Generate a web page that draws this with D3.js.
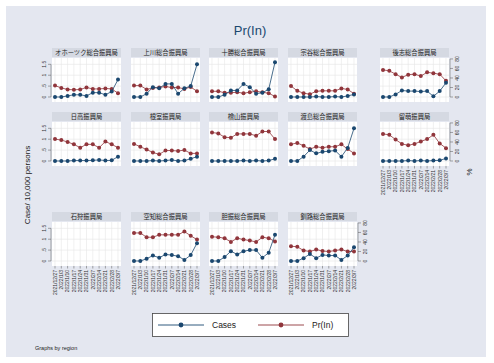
<!DOCTYPE html>
<html><head><meta charset="utf-8">
<script src="https://cdn.jsdelivr.net/npm/d3@7"></script>
<style>body{margin:0;background:#fff}svg{display:block}</style>
</head><body>
<script>
const regions = ["オホーツク総合振興局","上川総合振興局","十勝総合振興局","宗谷総合振興局","後志総合振興局",
  "日高振興局","根室振興局","檜山振興局","渡島総合振興局","留萌振興局",
  "石狩振興局","空知総合振興局","胆振総合振興局","釧路総合振興局"];
const weeks = ["2021/12/27","2022/1/3","2022/1/10","2022/1/17","2022/1/24","2022/1/31","2022/2/7","2022/2/14","2022/2/21","2022/2/28","2022/3/7"];
const cases = [
  [0,0,0.05,0.1,0.1,0.05,0.2,0.2,0.1,0.25,0.8],
  [0,0,0.15,0.45,0.4,0.6,0.6,0.15,0.4,0.5,1.5],
  [0,0,0.1,0.3,0.3,0.6,0.45,0.15,0.2,0.35,1.6],
  [0,0,0,0,0.02,0,0,0.02,0,0.05,0.12],
  [0,0,0.12,0.3,0.27,0.27,0.25,0.27,0.03,0.27,0.65],
  [0,0,0,0.02,0.02,0.02,0.03,0.05,0.02,0.03,0.2],
  [0,0,0,0.02,0,0.02,0.05,0,0.02,0.1,0.2],
  [0,0,0,0,0,0.02,0,0.02,0,0.02,0.1],
  [0,0,0.2,0.5,0.35,0.42,0.45,0.48,0.2,0.6,1.5],
  [0,0,0,0,0.02,0,0.02,0,0.02,0.03,0.12],
  [],
  [0,0,0.1,0.25,0.15,0.3,0.27,0.22,0.05,0.27,0.82],
  [0,0,0.18,0.45,0.3,0.45,0.5,0.5,0.15,0.38,1.2],
  [0,0,0.13,0.32,0.13,0.28,0.25,0.25,0.05,0.25,0.63]
];
const prIn = [
  [24,19,16,15,16,20,17,17,18,17,8],
  [24,24,16,19,20,22,20,20,17,21,12],
  [12,12,9,9,10,8,10,12,10,8,1],
  [23,13,8,6,12,13,13,13,18,16,7],
  [57,55,48,41,47,48,44,52,50,48,34],
  [46,44,40,35,28,35,35,28,41,35,28],
  [36,30,24,18,14,22,22,21,23,16,16],
  [60,58,50,49,57,57,57,53,62,62,46],
  [35,38,32,25,30,28,30,30,35,25,16],
  [57,55,45,36,33,36,41,46,55,37,27],
  [],
  [59,59,50,50,55,55,55,55,62,53,45],
  [51,50,48,40,48,45,43,40,50,48,41],
  [31,30,22,20,24,21,20,22,24,20,20]
];
const caseTicks = [0,0.5,1,1.5];
const caseTickLabels = ["0",".5","1","1.5"];
const prTicks = [0,20,40,60,80];

const W=494,H=363;
const svg=d3.select("body").append("svg").attr("width",W).attr("height",H);
svg.append("rect").attr("width",W).attr("height",H).attr("fill","#fff");
svg.append("rect").attr("x",6).attr("y",6).attr("width",480).attr("height",351).attr("fill","#e4e7f0");

const blue="#1a476f", red="#90353b";
const font="'Liberation Sans', Arial, sans-serif";
const jp="'Noto Sans CJK JP', sans-serif";

svg.append("text").attr("x",250).attr("y",35).attr("text-anchor","middle")
  .attr("font-family",font).attr("font-size",13).attr("fill",blue).text("Pr(In)");

const colX=[52,131,209,288,380], rowY=[58,122,222], pw=69, ph=44;
const x=d3.scalePoint().domain(weeks).range([3,pw-3]);
const yC=d3.scaleLinear().domain([-0.23,1.79]).range([ph,0]);
const yP=d3.scaleLinear().domain([-10.5,82]).range([ph,0]);

regions.forEach((name,i)=>{
  const row=Math.floor(i/5), col=i%5;
  const g=svg.append("g").attr("transform",`translate(${colX[col]},${rowY[row]})`);
  // strip
  g.append("rect").attr("x",0).attr("y",-10).attr("width",pw).attr("height",9).attr("fill","#d5d9e2");
  g.append("text").attr("x",pw/2).attr("y",-2.8).attr("text-anchor","middle")
    .attr("font-family",jp).attr("font-size",6.3).attr("fill","#222").text(name);
  g.append("rect").attr("width",pw).attr("height",ph).attr("fill","#fff");
  // grid
  g.selectAll(".hg").data(caseTicks).join("line").attr("x1",0).attr("x2",pw)
    .attr("y1",d=>yC(d)).attr("y2",d=>yC(d)).attr("stroke","#e6e6e6").attr("stroke-width",0.6);
  g.selectAll(".vg").data(weeks).join("line").attr("y1",0).attr("y2",ph)
    .attr("x1",d=>x(d)).attr("x2",d=>x(d)).attr("stroke","#e6e6e6").attr("stroke-width",0.6);
  // left axis
  if(col===0){
    const ax=g.append("g");
    ax.append("line").attr("x1",-1).attr("x2",-1).attr("y1",yC(0)).attr("y2",yC(1.5)).attr("stroke","#555").attr("stroke-width",0.5);
    caseTicks.forEach((t,k)=>{
      ax.append("line").attr("x1",-1).attr("x2",-4).attr("y1",yC(t)).attr("y2",yC(t)).attr("stroke","#555").attr("stroke-width",0.5);
      ax.append("text").attr("transform",`translate(-6,${yC(t)}) rotate(-90)`).attr("text-anchor","middle")
        .attr("font-family",font).attr("font-size",5).attr("fill","#333").text(caseTickLabels[k]);
    });
  }
  const isLast = (row<2 && col===4) || (row===2 && col===3);
  if(isLast){
    const ax=g.append("g");
    ax.append("line").attr("x1",pw+1).attr("x2",pw+1).attr("y1",yP(0)).attr("y2",yP(80)).attr("stroke","#555").attr("stroke-width",0.5);
    prTicks.forEach(t=>{
      ax.append("line").attr("x1",pw+1).attr("x2",pw+4).attr("y1",yP(t)).attr("y2",yP(t)).attr("stroke","#555").attr("stroke-width",0.5);
      ax.append("text").attr("transform",`translate(${pw+10},${yP(t)}) rotate(-90)`).attr("text-anchor","middle")
        .attr("font-family",font).attr("font-size",5).attr("fill","#333").text(t);
    });
  }
  const isBottom = row===2 || (row===1 && col===4);
  if(isBottom){
    weeks.forEach(w=>{
      g.append("line").attr("x1",x(w)).attr("x2",x(w)).attr("y1",ph).attr("y2",ph+2.5).attr("stroke","#555").attr("stroke-width",0.5);
      g.append("text").attr("transform",`translate(${x(w)+1.8},${ph+4}) rotate(-90)`).attr("text-anchor","end")
        .attr("font-family",font).attr("font-size",5).attr("fill","#333").text(w);
    });
  }
  // series
  const cs=cases[i].map((v,k)=>[weeks[k],v]);
  const ps=prIn[i].map((v,k)=>[weeks[k],v]);
  const lc=d3.line().x(d=>x(d[0])).y(d=>yC(d[1]));
  const lp=d3.line().x(d=>x(d[0])).y(d=>yP(d[1]));
  g.append("path").attr("d",lp(ps)).attr("fill","none").attr("stroke",red).attr("stroke-width",0.8);
  g.selectAll(".pm").data(ps).join("circle").attr("cx",d=>x(d[0])).attr("cy",d=>yP(d[1])).attr("r",2).attr("fill",red);
  g.append("path").attr("d",lc(cs)).attr("fill","none").attr("stroke",blue).attr("stroke-width",0.8);
  g.selectAll(".cm").data(cs).join("circle").attr("cx",d=>x(d[0])).attr("cy",d=>yC(d[1])).attr("r",2).attr("fill",blue);
});

svg.append("text").attr("transform","translate(30,185) rotate(-90)").attr("text-anchor","middle")
  .attr("font-family",font).attr("font-size",8).attr("fill","#222").text("Case/ 10,000 persons");
svg.append("text").attr("transform","translate(472,172) rotate(-90)").attr("text-anchor","middle")
  .attr("font-family",font).attr("font-size",8).attr("fill","#222").text("%");

// legend
const lg=svg.append("g");
lg.append("rect").attr("x",152.5).attr("y",313.5).attr("width",196).attr("height",23).attr("fill","#fff").attr("stroke","#444").attr("stroke-width",0.8);
const items=[{n:"Cases",c:blue,x:158},{n:"Pr(In)",c:red,x:258}];
items.forEach(it=>{
  lg.append("line").attr("x1",it.x).attr("x2",it.x+46).attr("y1",325).attr("y2",325).attr("stroke",it.c).attr("stroke-width",0.9);
  lg.append("circle").attr("cx",it.x+23).attr("cy",325).attr("r",2.4).attr("fill",it.c);
  lg.append("text").attr("x",it.x+54).attr("y",328).attr("font-family",font).attr("font-size",8.5).attr("fill","#222").text(it.n);
});
svg.append("text").attr("x",35).attr("y",350).attr("font-family",font).attr("font-size",5.5).attr("fill","#222").text("Graphs by region");
</script>
</body></html>
